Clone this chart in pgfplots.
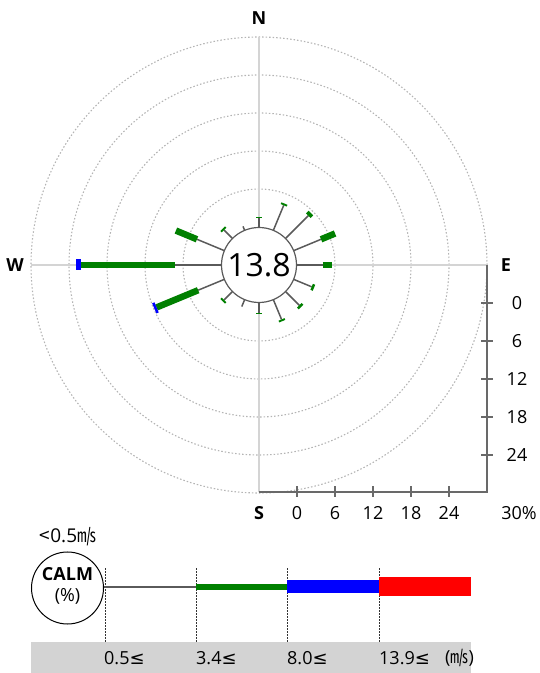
\documentclass[border=0pt]{standalone}
\usepackage{fontspec}
\usepackage{pgfplots}
\pgfplotsset{compat=1.18}
\usepackage{pgfplotstable}
\setmainfont{Open Sans}
\newfontfamily\cjk{Noto Sans CJK JP}
\newfontfamily\dv{DejaVu Sans}
\definecolor{wgreen}{RGB}{0,128,0}
\definecolor{wblue}{RGB}{0,0,255}
\definecolor{wred}{RGB}{255,0,0}
\definecolor{gridc}{RGB}{212,212,212}
\definecolor{dotc}{RGB}{180,180,180}
\definecolor{spoke}{RGB}{90,90,90}
\definecolor{axc}{RGB}{105,105,105}
\definecolor{band}{RGB}{211,211,211}

% dir = compass direction (deg), c1: 0.5-3.4, c2: 3.4-8.0, c3: 8.0-13.9, c4: >=13.9 (%)
\pgfplotstableread{
dir   c1   c2    c3   c4
0     1.5  0.1   0    0
22.5  4.2  0.3   0    0
45    5.0  0.6   0    0
67.5  4.6  2.4   0    0
90    4.1  1.4   0    0
112.5 3.0  0.4   0    0
135   3.0  0.4   0    0
157.5 3.3  0.3   0    0
180   1.6  0.1   0    0
202.5 1.1  0.0   0    0
225   1.8  0.3   0    0
247.5 4.4  7.1   0.4  0
270   7.3  14.8  0.8  0
292.5 4.6  3.6   0    0
315   1.8  0.3   0    0
337.5 0.6  0.0   0    0
}\windtable

\begin{document}
\begin{tikzpicture}[x=1pt,y=1pt]
\useasboundingbox (0,0) rectangle (540,673);
% grid
\begin{scope}[shift={(259,408)}]
  \foreach \r in {76,114,152,190,228}
    \draw[dotc, line width=1.1pt, dash pattern=on 1.5pt off 2pt] (0,0) circle (\r);
  \draw[gridc, line width=1.8pt] (-228,0) -- (228,0);
  \draw[gridc, line width=1.8pt] (0,-227) -- (0,228);
\end{scope}

\begin{axis}[at={(259pt,408pt)}, anchor=center,
  x=6.3333pt, y=6.3333pt,
  xmin=-36, xmax=36, ymin=-36, ymax=36,
  hide axis, clip=false]
\addplot[draw=spoke, line width=1.5pt,
  quiver={u=\thisrow{c1}*sin(\thisrow{dir}), v=\thisrow{c1}*cos(\thisrow{dir})}]
  table[x expr={6*sin(\thisrow{dir})}, y expr={6*cos(\thisrow{dir})}] {\windtable};
\addplot[draw=wgreen, line width=6.5pt,
  quiver={u=\thisrow{c2}*sin(\thisrow{dir}), v=\thisrow{c2}*cos(\thisrow{dir})}]
  table[x expr={(6+\thisrow{c1})*sin(\thisrow{dir})}, y expr={(6+\thisrow{c1})*cos(\thisrow{dir})}] {\windtable};
\addplot[draw=wblue, line width=11pt,
  quiver={u=\thisrow{c3}*sin(\thisrow{dir}), v=\thisrow{c3}*cos(\thisrow{dir})}]
  table[x expr={(6+\thisrow{c1}+\thisrow{c2})*sin(\thisrow{dir})}, y expr={(6+\thisrow{c1}+\thisrow{c2})*cos(\thisrow{dir})}] {\windtable};
\addplot[draw=wred, line width=17pt,
  quiver={u=\thisrow{c4}*sin(\thisrow{dir}), v=\thisrow{c4}*cos(\thisrow{dir})}]
  table[x expr={(6+\thisrow{c1}+\thisrow{c2}+\thisrow{c3})*sin(\thisrow{dir})}, y expr={(6+\thisrow{c1}+\thisrow{c2}+\thisrow{c3})*cos(\thisrow{dir})}] {\windtable};
\end{axis}

% calm circle
\draw[spoke, fill=white, line width=1.2pt] (259,408) circle (37.5);
\node[font=\fontsize{32}{34}\selectfont] at (259,408) {13.8};

% direction labels
\node[font=\fontsize{18}{20}\selectfont\bfseries] at (259,655) {N};
\node[font=\fontsize{18}{20}\selectfont\bfseries] at (15,408) {W};
\node[font=\fontsize{18}{20}\selectfont\bfseries] at (506,408) {E};
\node[font=\fontsize{18}{20}\selectfont\bfseries] at (259,160) {S};

% scale axes
\draw[axc, line width=1.6pt] (487,408) -- (487,181) -- (259,181);
\foreach \yy/\lab in {370/0,332/6,294/12,256/18,218/24} {
  \draw[axc, line width=1.4pt] (481,\yy) -- (493,\yy);
  \node[font=\fontsize{18}{19}\selectfont] at (517,\yy) {\lab};
}
\foreach \xx/\lab in {297/0,335/6,373/12,411/18,449/24} {
  \draw[axc, line width=1.4pt] (\xx,176) -- (\xx,187);
  \node[font=\fontsize{18}{19}\selectfont] at (\xx,160) {\lab};
}
\node[font=\fontsize{18}{19}\selectfont] at (519,160) {30\%};

% legend
\fill[band] (31,0) rectangle (471,31);
\foreach \xx in {105,196,287,379}
  \draw[black!80, line width=0.9pt, dash pattern=on 1.5pt off 1.5pt] (\xx,31) -- (\xx,105);
\draw[spoke, line width=1.5pt] (104,86) -- (196,86);
\draw[wgreen, line width=6pt] (196,86) -- (287,86);
\draw[wblue, line width=13pt] (287,86.5) -- (379,86.5);
\draw[wred, line width=19pt] (379,86.5) -- (471,86.5);
\draw[black, fill=white, line width=1pt] (67.5,85) circle (36);
\node[font=\fontsize{18}{19}\selectfont\bfseries] at (67.5,99) {CALM};
\node[font=\fontsize{18}{19}\selectfont] at (67.5,77) {(\%)};
\node[font=\fontsize{19}{20}\selectfont] at (68,136) {{\cjk <}0.5{\cjk ㎧}};
\node[font=\fontsize{18}{19}\selectfont, anchor=west, inner sep=0pt] at (104,15) {0.5{\dv ≤}};
\node[font=\fontsize{18}{19}\selectfont, anchor=west, inner sep=0pt] at (196,15) {3.4{\dv ≤}};
\node[font=\fontsize{18}{19}\selectfont, anchor=west, inner sep=0pt] at (287,15) {8.0{\dv ≤}};
\node[font=\fontsize{18}{19}\selectfont, anchor=west, inner sep=0pt] at (379,15) {13.9{\dv ≤}};
\node[font=\fontsize{18}{19}\selectfont, anchor=west, inner sep=0pt] at (445,15) {({\cjk ㎧})};
\end{tikzpicture}
\end{document}
